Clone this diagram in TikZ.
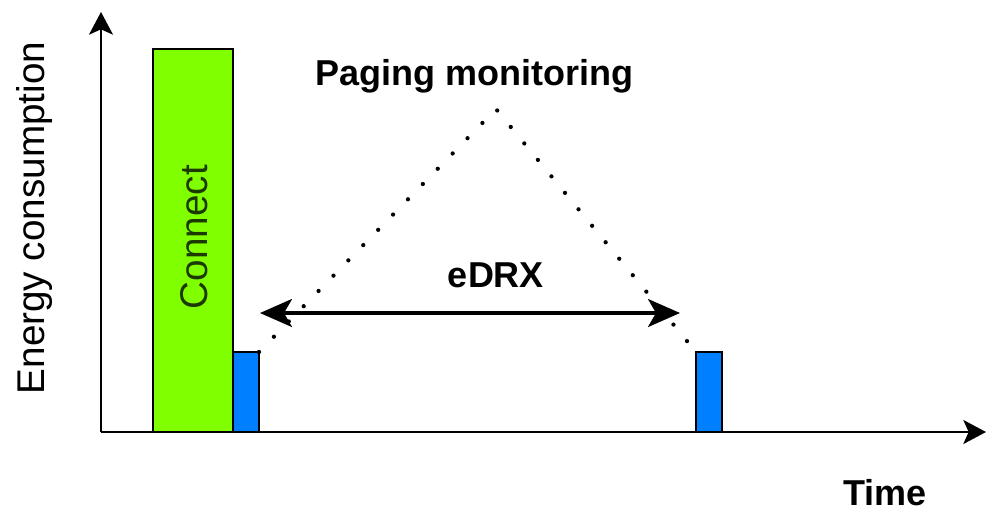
\documentclass[tikz,border=0pt]{standalone}
\usepackage{fontspec}
\setmainfont{Liberation Sans}
\usetikzlibrary{arrows.meta}

\definecolor{connectgreen}{HTML}{80FF00}
\definecolor{pageblue}{HTML}{007FFF}
\definecolor{darkgreen}{HTML}{1C3A00}

\begin{document}
\begin{tikzpicture}[x=0.75pt,y=-0.75pt,
        axis/.style={line width=1.5pt,-{Stealth[length=17pt,width=18pt,inset=4pt]}},
        bar/.style={draw=black,line width=1.2pt},
        monitor/.style={line width=3.2pt,line cap=round,dash pattern=on 0pt off 16pt},
        span/.style={line width=2.4pt,{Stealth[length=24pt,width=21pt,inset=6pt]}-{Stealth[length=24pt,width=21pt,inset=6pt]}},
        bigbold/.style={font=\fontsize{27}{30}\selectfont\bfseries},
        bigplain/.style={font=\fontsize{29}{32}\selectfont}]
            \useasboundingbox (0,0) rectangle (990,512);

            % axes
            \coordinate (O) at (101,432);
            \coordinate (Ytop) at (101,12);
            \coordinate (Xend) at (986,432);

            % bars
            \coordinate (A) at (153,49);
            \coordinate (B) at (233,432);
            \coordinate (C) at (233,352);
            \coordinate (D) at (259,432);
            \coordinate (E) at (696,352);
            \coordinate (F) at (722,432);

            % paging window
            \coordinate (C2) at (259,352);
            \coordinate (P) at (496,109);
            \coordinate (L) at (260,313);
            \coordinate (R) at (680,313);

            \filldraw[bar,fill=connectgreen] (A) rectangle (B);
            \filldraw[bar,fill=pageblue] (C) rectangle (D);
            \filldraw[bar,fill=pageblue] (E) rectangle (F);

            \draw[axis] (O) -- (Ytop);
            \draw[axis] (O) -- (Xend);

            \draw[monitor] (C2) -- (P) -- (E);
            \draw[span] (L) -- (R);

            \node[bigplain,text=darkgreen,rotate=90,anchor=base] (connect) at (207,237) {Connect};
            \node[bigplain,rotate=90,anchor=base] (energy) at (44,218) {Energy consumption};
            \node[bigbold,anchor=base] (paging) at (474.5,85) {Paging monitoring};
            \node[bigbold,anchor=base] (edrx) at (496,287) {eDRX};
            \node[bigbold,anchor=base] (time) at (885,505) {Time};
        \end{tikzpicture}
\end{document}
